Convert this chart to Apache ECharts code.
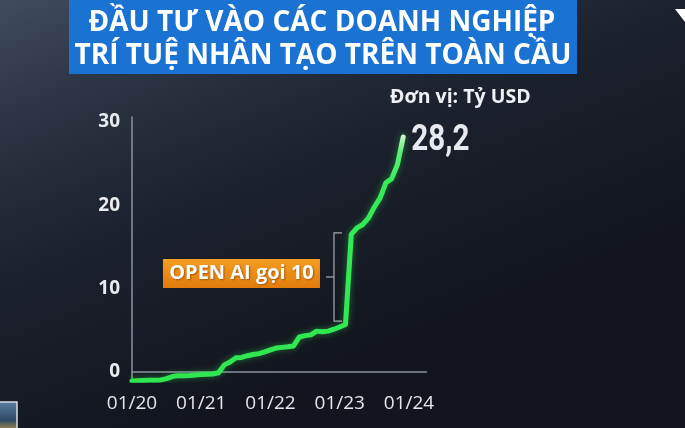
<!DOCTYPE html>
<html><head><meta charset="utf-8">
<script src="https://cdn.jsdelivr.net/npm/echarts@6/dist/echarts.min.js"></script>
<style>html,body{margin:0;padding:0;background:#151a24;}#c{width:685px;height:428px;}</style>
</head><body><div id="c"></div>
<script>
const titleLines = ['ĐẦU TƯ VÀO CÁC DOANH NGHIỆP', 'TRÍ TUỆ NHÂN TẠO TRÊN TOÀN CẦU'];
const unitText = 'Đơn vị: Tỷ USD';
const annotationText = 'OPEN AI gọi 10';
const months = [
 '01/20','02/20','03/20','04/20','05/20','06/20','07/20','08/20','09/20','10/20','11/20','12/20',
 '01/21','02/21','03/21','04/21','05/21','06/21','07/21','08/21','09/21','10/21','11/21','12/21',
 '01/22','02/22','03/22','04/22','05/22','06/22','07/22','08/22','09/22','10/22','11/22','12/22',
 '01/23','02/23','03/23','04/23','05/23','06/23','07/23','08/23','09/23','10/23','11/23','12/23',
 '01/24','02/24','03/24','04/24'];
const investment = [
 -1.08,-1.05,-1.02,-1.0,-0.98,-0.95,-0.8,-0.55,-0.44,-0.44,-0.43,-0.37,
 -0.3,-0.27,-0.25,-0.1,0.85,1.2,1.7,1.75,1.95,2.1,2.2,2.4,
 2.65,2.87,2.95,3.02,3.12,4.2,4.36,4.45,4.9,4.82,4.9,5.13,
 5.4,5.7,16.5,17.3,17.7,18.5,19.8,20.9,22.7,23.2,24.9,28.2];
const yTicks = [0, 10, 20, 30];
// bracket around the OpenAI jump: [month index, low value, high value]
const bracket = [34.6, 6.1, 16.7];

const chart = echarts.init(document.getElementById('c'));
chart.setOption({
  animation: false,
  backgroundColor: {type:'linear', x:0, y:0, x2:0.25, y2:1, colorStops:[
    {offset:0, color:'#404b5c'}, {offset:0.25, color:'#2c3544'}, {offset:0.55, color:'#1c222e'}, {offset:1, color:'#12151d'}]},
  grid: {left:132, right:258.7, top:117, bottom:47.7},
  xAxis: {
    type:'category', data: months, boundaryGap:false,
    axisLine:{show:true, lineStyle:{color:'#8b93a0', width:1.5}},
    axisTick:{show:false},
    axisLabel:{interval:(i, v) => v.startsWith('01/'), color:'#e4e6ea', fontSize:19, fontFamily:'Open Sans', margin:14},
    splitLine:{show:false}
  },
  yAxis: {
    type:'value', min:-1, max:30.6,
    axisLine:{show:true, lineStyle:{color:'#8b93a0', width:1.5}},
    axisTick:{show:false},
    splitLine:{show:false},
    axisLabel:{customValues: yTicks, color:'#e8eaee', fontSize:19, fontWeight:'bold', fontFamily:'Open Sans', margin:12}
  },
  series: [{
    type:'line', data: investment, showSymbol:false, symbol:'none',
    lineStyle:{width:5, color:{type:'linear', x:0, y:0, x2:0, y2:1, colorStops:[
      {offset:0, color:'#d6f7d2'}, {offset:0.07, color:'#5cee76'}, {offset:0.2, color:'#36ec56'}, {offset:1, color:'#30e650'}]},
      shadowBlur:6, shadowColor:'rgba(40,230,80,0.45)', cap:'round', join:'round'}
  }]
});

const lastIdx = investment.length - 1;
const pEnd = chart.convertToPixel({gridIndex:0}, [lastIdx, investment[lastIdx]]);
const pTop = chart.convertToPixel({gridIndex:0}, [bracket[0], bracket[2]]);
const pBot = chart.convertToPixel({gridIndex:0}, [bracket[0], bracket[1]]);
const bx = pTop[0], ty = pTop[1], by = pBot[1], my = (ty + by) / 2;
const boxW = 157, boxH = 29, boxR = bx - 14;
const lineCol = '#a3a9b3';
chart.setOption({
  graphic: [
    {type:'rect', shape:{x:69, y:0, width:508, height:74}, style:{fill:'#1a72d3'}, z:10},
    {type:'text', style:{text:titleLines[0], x:322, y:23, align:'center', verticalAlign:'middle', fill:'#ffffff',
      font:'bold 28px "Open Sans"'}, z:11},
    {type:'text', style:{text:titleLines[1], x:323, y:56, align:'center', verticalAlign:'middle', fill:'#ffffff',
      font:'bold 28px "Open Sans"'}, z:11},
    {type:'text', style:{text:unitText, x:390, y:97, align:'left', verticalAlign:'middle', fill:'#f0f1f4',
      font:'bold 19.5px "Open Sans"'}, z:11},
    {type:'text', x: pEnd[0] + 8, y: pEnd[1] + 4, scaleX: 0.8,
      style:{text:String(investment[lastIdx]).replace('.', ','), x:0, y:0, align:'left', verticalAlign:'middle',
        fill:'#e8e9ee', font:'bold 37px Roboto'}, z:11},
    {type:'polyline', shape:{points:[[bx+8, ty],[bx, ty],[bx, by],[bx+8, by]]}, style:{stroke:lineCol, lineWidth:1.2, fill:null}, z:11},
    {type:'line', shape:{x1:bx-8, y1:my, x2:bx, y2:my}, style:{stroke:lineCol, lineWidth:1.2}, z:11},
    {type:'rect', shape:{x:boxR-boxW, y:my-18, width:boxW, height:boxH},
      style:{fill:{type:'linear', x:0, y:0, x2:0, y2:1, colorStops:[{offset:0,color:'#f49d22'},{offset:1,color:'#e27c0b'}]}}, z:11},
    {type:'text', style:{text:annotationText, x:boxR-boxW/2, y:my-3.5, align:'center', verticalAlign:'middle', fill:'#ffffff',
      font:'bold 20px "Open Sans"', textShadowColor:'rgba(120,50,0,0.6)', textShadowBlur:2, textShadowOffsetX:1, textShadowOffsetY:1}, z:12},
    {type:'rect', shape:{x:-2, y:402, width:19, height:30},
      style:{fill:{type:'linear', x:0, y:0, x2:0, y2:1, colorStops:[{offset:0,color:'#5a7ea0'},{offset:0.6,color:'#2e4a66'},{offset:1,color:'#c8a040'}]}, stroke:'#d8dde4', lineWidth:1.5}, z:11},
    {type:'polygon', shape:{points:[[675,9],[685,9],[685,22]]}, style:{fill:'#ffffff'}, z:11}
  ]
});
</script></body></html>
